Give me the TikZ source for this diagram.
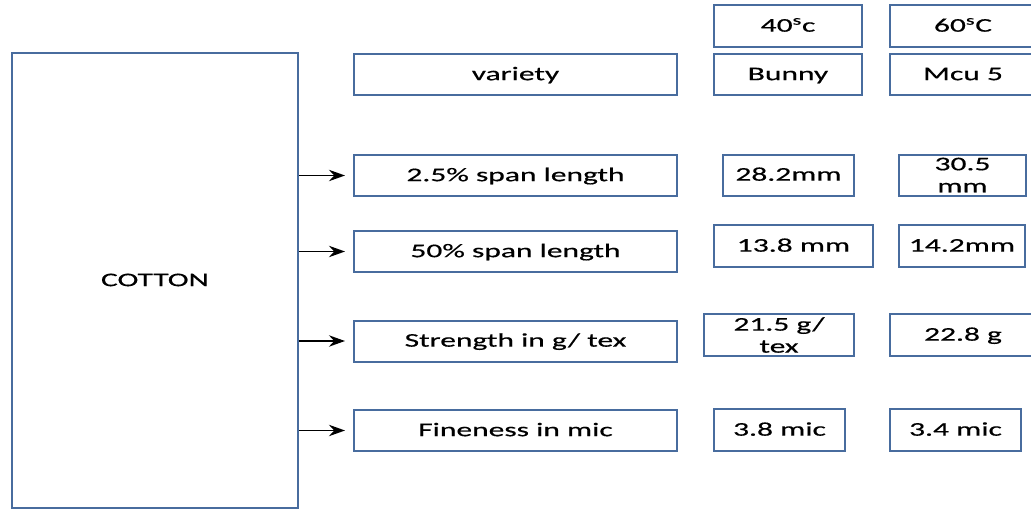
\documentclass[tikz,border=0pt]{standalone}
\usepackage{fontspec}
\setmainfont[FakeStretch=1.63,FakeBold=0.5]{Carlito}
\usetikzlibrary{arrows.meta}
\definecolor{boxblue}{RGB}{72,108,158}
\begin{document}
\begin{tikzpicture}[x=0.75pt, y=-0.75pt,
    cell/.style={draw=boxblue, line width=1.5pt, inner sep=0pt, align=center,
      font=\fontsize{14.5}{16.5}\selectfont, minimum height=30.75pt,
      text height=0.9em, text depth=0.05em},
    twoline/.style={text height={}, text depth={}},
    wide/.style={cell, minimum width=242.25pt},
    feed/.style={line width=1.4pt, shorten >=6pt, -{Stealth[length=12pt,width=8.5pt]}}]
      \clip (0,0) rectangle (1031,510);
      \node[cell, minimum width=214.5pt, minimum height=341.25pt] (cotton) at (155,280.5) {COTTON};
      \node[cell, minimum width=111pt, minimum height=31.5pt] (T40) at (788,26) {40\textsuperscript{s}c};
      \node[cell, minimum width=109.5pt, minimum height=31.5pt] (T60) at (963,26) {60\textsuperscript{s}C};
      \node[wide] (variety) at (515.5,74.5) {variety};
      \node[cell, minimum width=111pt] (bunny) at (788,74.5) {Bunny};
      \node[cell, minimum width=109.5pt] (mcu) at (963,74.5) {Mcu 5};
      \node[wide] (span25) at (515.5,175.5) {2.5\% span length};
      \node[cell, minimum width=98.25pt] (V1a) at (788.5,175) {28.2mm};
      \node[cell, twoline, minimum width=95.25pt] (V1b) at (962.5,175) {30.5\\mm};
      \node[wide] (span50) at (515.5,251.5) {50\% span length};
      \node[cell, minimum width=119.25pt, minimum height=31.5pt] (V2a) at (793.5,246) {13.8 mm};
      \node[cell, minimum width=94.5pt, minimum height=31.5pt] (V2b) at (962,246) {14.2mm};
      \node[wide] (strength) at (515.5,341) {Strength in g/ tex};
      \node[cell, twoline, minimum width=112.5pt, minimum height=31.5pt] (V3a) at (779,335) {21.5 g/\\tex};
      \node[cell, minimum width=109.5pt, minimum height=31.5pt] (V3b) at (963,335) {22.8 g};
      \node[wide] (fineness) at (515.5,430.5) {Fineness in mic};
      \node[cell, minimum width=98.25pt, minimum height=31.5pt] (V4a) at (779.5,430) {3.8 mic};
      \node[cell, minimum width=98.25pt, minimum height=31.5pt] (V4b) at (955.5,430) {3.4 mic};
      \draw[feed] (cotton.east |- span25) -- (span25.west);
      \draw[feed] (cotton.east |- span50) -- (span50.west);
      \draw[feed] (cotton.east |- strength) -- (strength.west);
      \draw[feed] (cotton.east |- fineness) -- (fineness.west);
\end{tikzpicture}
\end{document}
